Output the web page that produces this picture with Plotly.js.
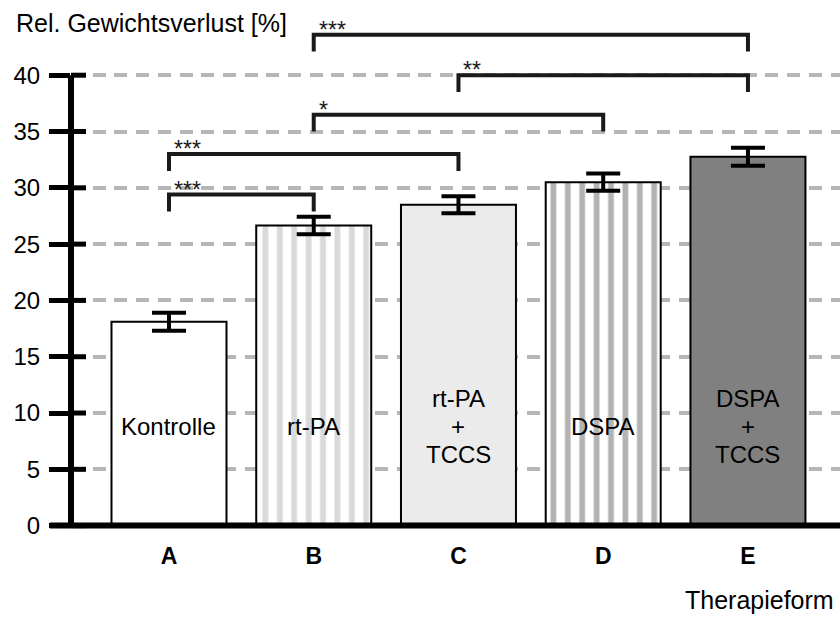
<!DOCTYPE html>
<html>
<head>
<meta charset="utf-8">
<script src="https://cdn.plot.ly/plotly-3.0.1.min.js"></script>
<style>
  html, body { margin: 0; padding: 0; background: #ffffff; }
  #chart { width: 840px; height: 617px; }
</style>
</head>
<body>
<div id="chart"></div>
<script>
// Therapy groups and mean relative weight loss (%) with error (SEM)
const categories = ['A', 'B', 'C', 'D', 'E'];
const groupNames = ['Kontrolle', 'rt-PA', 'rt-PA<br>+<br>TCCS', 'DSPA', 'DSPA<br>+<br>TCCS'];
const meanLoss = [18.1, 26.65, 28.5, 30.5, 32.75];
const errLoss = [0.8, 0.78, 0.75, 0.77, 0.8];

// Fill style per group: solid colour or vertical stripes
const fillColor = ['#ffffff', '#ffffff', '#ebebeb', '#ffffff', '#808080'];
const stripeColor = [null, '#d9d9d9', null, '#b3b3b3', null];

// Significance brackets between groups
const brFrom = ['A', 'A', 'B', 'C', 'B'];
const brTo = ['B', 'C', 'D', 'E', 'E'];
const brLevel = [29.4, 33.0, 36.5, 40.0, 43.6];
const brLabel = ['***', '***', '*', '**', '***'];

// Y axis ticks
const yTicks = [0, 5, 10, 15, 20, 25, 30, 35, 40];

const FONT = 'Liberation Sans, Arial, Helvetica, sans-serif';
const W = 840, H = 617;
const M = { l: 71, r: 0, t: 0, b: 88 };
const plotW = W - M.l - M.r;
const plotH = H - M.t - M.b;
const DROP = 1.5;          // bracket leg length (data units)
const LABEL_Y = 8.83;      // vertical centre of the in-bar labels
const LINE_GAP = 28;       // px between lines of an in-bar label

// One bar trace per group, overlaid so each sits centred on its category
const traces = categories.map((c, i) => {
  const marker = {
    color: fillColor[i],
    line: { color: '#000000', width: 2 }
  };
  if (stripeColor[i]) {
    marker.pattern = {
      shape: '|',
      fillmode: 'overlay',
      fgcolor: stripeColor[i],
      fgopacity: 1,
      size: 14.4,
      solidity: 0.4
    };
  }
  return {
    type: 'bar',
    x: [c],
    y: [meanLoss[i]],
    marker: marker,
    error_y: {
      type: 'data',
      array: [errLoss[i]],
      visible: true,
      color: '#000000',
      thickness: 4,
      width: 17
    },
    hoverinfo: 'skip',
    showlegend: false
  };
});

// Brackets as one broken line trace
const bx = [], by = [];
brFrom.forEach((f, i) => {
  const t = brTo[i], lv = brLevel[i];
  bx.push(f, f, t, t, null);
  by.push(lv - DROP, lv, lv, lv - DROP, null);
});
traces.push({
  type: 'scatter',
  mode: 'lines',
  x: bx,
  y: by,
  line: { color: '#1a1a1a', width: 4 },
  connectgaps: false,
  cliponaxis: false,
  hoverinfo: 'skip',
  showlegend: false
});

const annotations = [];

// Star labels above each bracket
brFrom.forEach((f, i) => {
  annotations.push({
    x: f, y: brLevel[i], xref: 'x', yref: 'y',
    text: brLabel[i], showarrow: false,
    xanchor: 'left', yanchor: 'middle', xshift: 3, yshift: 5,
    font: { family: FONT, size: 23, color: '#1a1a1a' }
  });
});

// Group names inside the bars, one annotation per line
groupNames.forEach((name, i) => {
  const lines = name.split('<br>');
  const n = lines.length;
  lines.forEach((ln, j) => {
    annotations.push({
      x: categories[i], y: LABEL_Y, xref: 'x', yref: 'y',
      text: ln, showarrow: false,
      xanchor: 'center', yanchor: 'middle',
      yshift: ((n - 1) / 2 - j) * LINE_GAP,
      font: { family: FONT, size: 24, color: '#000000' }
    });
  });
});

// Axis titles
annotations.push({
  x: (14 - M.l) / plotW, y: (plotH - 22.6) / plotH, xref: 'paper', yref: 'paper',
  text: 'Rel. Gewichtsverlust [%]', showarrow: false,
  xanchor: 'left', yanchor: 'middle',
  font: { family: FONT, size: 25, color: '#000000' }
});
annotations.push({
  x: 1, y: (plotH - 600) / plotH, xref: 'paper', yref: 'paper',
  text: 'Therapieform', showarrow: false,
  xanchor: 'right', yanchor: 'middle', xshift: -4,
  font: { family: FONT, size: 25, color: '#000000' }
});

// Axis lines and the inner half of the y ticks
const shapes = [];
shapes.push({
  type: 'line', xref: 'paper', yref: 'y',
  x0: -21 / plotW, x1: 1, y0: 0, y1: 0,
  line: { color: '#000000', width: 6 }
});
shapes.push({
  type: 'line', xref: 'paper', yref: 'y',
  x0: 0, x1: 0, y0: 0, y1: 40,
  line: { color: '#000000', width: 6 }
});
yTicks.forEach(v => {
  shapes.push({
    type: 'line', xref: 'paper', yref: 'y',
    xsizemode: 'pixel', xanchor: 0, x0: 0, x1: 15,
    y0: v, y1: v,
    line: { color: '#000000', width: 5 }
  });
});

const layout = {
  width: W,
  height: H,
  margin: M,
  paper_bgcolor: '#ffffff',
  plot_bgcolor: '#ffffff',
  barmode: 'overlay',
  bargap: 0.2055,
  showlegend: false,
  xaxis: {
    type: 'category',
    categoryorder: 'array',
    categoryarray: categories,
    range: [-0.677, 4.636],
    showline: false,
    showgrid: false,
    zeroline: false,
    ticks: '',
    ticklabelstandoff: 11,
    tickfont: { family: FONT, size: 23, color: '#000000', weight: 'bold' }
  },
  yaxis: {
    range: [-0.3, 46.68],
    tickmode: 'array',
    tickvals: yTicks,
    ticktext: yTicks.map(String),
    ticks: 'outside',
    ticklen: 21,
    tickwidth: 5,
    tickcolor: '#000000',
    ticklabelstandoff: 4,
    showline: false,
    zeroline: false,
    showgrid: true,
    gridcolor: '#b6b6b6',
    gridwidth: 4,
    griddash: '13px,8.7px',
    tickfont: { family: FONT, size: 24, color: '#000000' }
  },
  annotations: annotations,
  shapes: shapes
};

Plotly.newPlot('chart', traces, layout, { staticPlot: true, displayModeBar: false });
</script>
</body>
</html>
